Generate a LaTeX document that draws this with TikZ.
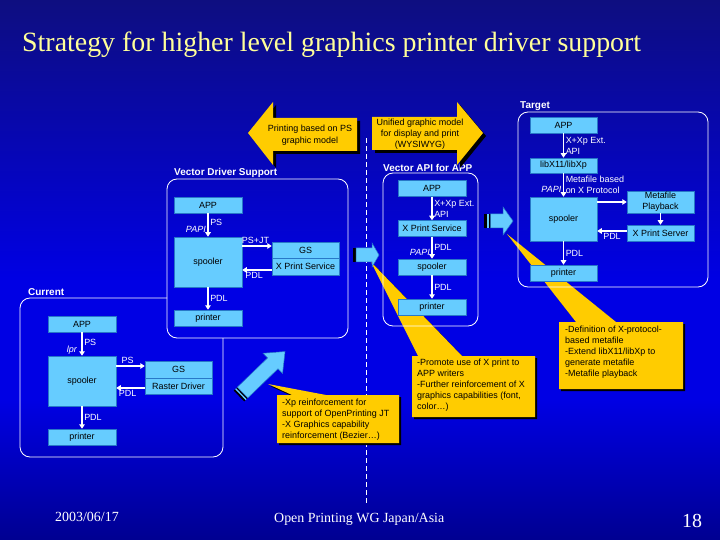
\documentclass[tikz,border=0pt]{standalone}
\usepackage{fontspec}
\setmainfont{Liberation Serif}
\setsansfont{Liberation Sans}
\usetikzlibrary{arrows.meta,positioning}

\definecolor{boxblue}{RGB}{102,204,255}
\definecolor{boxline}{RGB}{40,120,200}
\definecolor{gold}{RGB}{255,204,0}
\definecolor{titleyellow}{RGB}{255,255,153}
\definecolor{bgtop}{RGB}{14,14,128}
\definecolor{bgmid}{RGB}{0,0,228}
\definecolor{bgbot}{RGB}{0,0,145}

\pgfdeclareverticalshading{slidebg}{100bp}{color(0bp)=(bgbot); color(25bp)=(bgbot); color(38bp)=(bgmid); color(49bp)=(bgmid); color(75bp)=(bgtop); color(100bp)=(bgtop)}

\tikzset{
  box/.style={draw=boxline,line width=0.5bp,fill=boxblue,text=black,minimum width=68bp,minimum height=16bp,inner sep=0pt},
  group/.style={draw=white,line width=0.8bp,rounded corners=10bp},
  grouplabel/.style={text=white,font=\sffamily\bfseries\fontsize{10}{12}\selectfont,anchor=base west,inner sep=0pt},
  flow/.style={draw=white,line width=1.5bp,-{Triangle[width=5.5bp,length=4.5bp]}},
  lbl/.style={text=white,inner sep=1.5bp},
  papi/.style={text=white,font=\sffamily\itshape\fontsize{9}{11}\selectfont,inner sep=1.5bp},
  note/.style={text=black,align=left,anchor=north west,inner sep=0pt,font=\sffamily\fontsize{9}{11.2}\selectfont},
  blockarrow/.style={fill=boxblue,draw=boxline,line width=0.5bp},
  footer/.style={text=white,font=\rmfamily\fontsize{14}{16}\selectfont,anchor=base west,inner sep=0pt}
}

\begin{document}
\begin{tikzpicture}[x=1bp,y=-1bp,every node/.style={font=\sffamily\fontsize{9}{11}\selectfont}]
% slide background
\shade[shading=slidebg] (0,0) rectangle (720,540);
\useasboundingbox (0,0) rectangle (720,540);

\node[text=titleyellow,font=\rmfamily\fontsize{28}{30}\selectfont,anchor=base west,inner sep=0pt] (title) at (22,52) {Strategy for higher level graphics printer driver support};

% divider between now and later
\draw[white,line width=0.6bp,dash pattern=on 5bp off 3bp] (366,138) -- (366,506);

% callouts
\fill[black,shift={(2,2)}] (268,384) -- (292,395) -- (326,395) -- cycle (277,395) rectangle (399,443);
\fill[gold] (268,384) -- (292,395) -- (326,395) -- cycle (277,395) rectangle (399,443);
\node[note] (notexp) at (282,398.5) {-Xp reinforcement for\\support of OpenPrinting JT\\-X Graphics capability\\reinforcement (Bezier…)};

\fill[black,shift={(2,2)}] (371,262) -- (418,356) -- (462,356) -- cycle (412,356) rectangle (535,417);
\fill[gold] (371,262) -- (418,356) -- (462,356) -- cycle (412,356) rectangle (535,417);
\node[note] (notepromote) at (417,358.5) {-Promote use of X print to\\APP writers\\-Further reinforcement of X\\graphics capabilities (font,\\color…)};

\fill[black,shift={(2,2)}] (507,234) -- (576,322) -- (616,322) -- cycle (559,322) rectangle (683,389);
\fill[gold] (507,234) -- (576,322) -- (616,322) -- cycle (559,322) rectangle (683,389);
\node[note] (notemeta) at (565,325.5) {-Definition of X-protocol-\\based metafile\\-Extend libX11/libXp to\\generate metafile\\-Metafile playback};

% groups
\draw[group] (167,298) -- (20,298) -- (20,457) -- (223,457) -- (223,338);
\node[grouplabel] (curlabel) at (28,295) {Current};
\draw[group] (167,179) rectangle (348,338);
\node[grouplabel] (vdlabel) at (174,176) {Vector Driver Support};
\draw[group] (383,173) rectangle (478,326);
\node[grouplabel] (valabel) at (383,172) {Vector API for APP};
\draw[group] (518,112) rectangle (708,287);
\node[grouplabel] (tglabel) at (520,109) {Target};

% current
\node[box] (curapp) at (82,324) {APP};
\node[box,minimum height=50bp] (curspool) at (82,381) {spooler};
\node[box,minimum width=67bp,minimum height=17bp] (curgs) at (178.5,369.5) {GS};
\node[box,minimum width=67bp] (curraster) at (178.5,386) {Raster Driver};
\node[box] (curprinter) at (82,437) {printer};
\draw[flow] (curapp) -- node[lbl,right,pos=0.45] {PS} node[papi,left,pos=0.75,xshift=-3bp] {lpr} (curspool);
\draw[flow] ([yshift=3.5bp]curgs.west -| curspool.east) -- node[lbl,above,pos=0.4] {PS} ([yshift=3.5bp]curgs.west);
\draw[flow] ([yshift=-2bp]curraster.west) -- node[lbl,below,pos=0.6] {PDL} ([yshift=-2bp]curraster.west -| curspool.east);
\draw[flow] (curspool) -- node[lbl,right] {PDL} (curprinter);

% vector driver support
\node[box] (vdapp) at (208,205) {APP};
\node[box,minimum height=50bp] (vdspool) at (208,262) {spooler};
\node[box,minimum width=67bp] (vdgs) at (305.5,250) {GS};
\node[box,minimum width=67bp,minimum height=17bp] (vdxps) at (305.5,266.5) {X Print Service};
\node[box] (vdprinter) at (208,318) {printer};
\draw[flow] (vdapp) -- node[lbl,right,pos=0.4] {PS} node[papi,left,pos=0.7] {PAPI} (vdspool);
\draw[flow] ([yshift=4bp]vdgs.west -| vdspool.east) -- node[lbl,above,pos=0.45] {PS+JT} ([yshift=4bp]vdgs.west);
\draw[flow] ([yshift=-3.5bp]vdxps.west) -- node[lbl,below,pos=0.6] {PDL} ([yshift=-3.5bp]vdxps.west -| vdspool.east);
\draw[flow] (vdspool) -- node[lbl,right] {PDL} (vdprinter);

% vector api for app
\node[box] (vaapp) at (432,188.5) {APP};
\node[box] (vaxps) at (432,228.5) {X Print Service};
\node[box] (vaspool) at (432,267) {spooler};
\node[box] (vaprinter) at (432,307) {printer};
\draw[flow] (vaapp) -- node[lbl,right,align=left] {X+Xp Ext.\\API} (vaxps);
\draw[flow] (vaxps) -- node[lbl,right] {PDL} node[papi,left,pos=0.7] {PAPI} (vaspool);
\draw[flow] (vaspool) -- node[lbl,right] {PDL} (vaprinter);

% target
\node[box,minimum width=67bp] (tgapp) at (563.5,125) {APP};
\node[box,minimum width=67bp,minimum height=15bp] (tglib) at (563.5,165.5) {libX11/libXp};
\node[box,minimum width=67bp,minimum height=44bp] (tgspool) at (563.5,219) {spooler};
\node[box,minimum width=67bp] (tgprinter) at (563.5,273) {printer};
\node[box,minimum width=67bp,minimum height=22bp,align=center] (tgmeta) at (660.5,202) {Metafile\\Playback};
\node[box,minimum width=67bp] (tgxps) at (660.5,233) {X Print Server};
\draw[flow] (tgapp) -- node[lbl,right,align=left] {X+Xp Ext.\\API} (tglib);
\draw[flow] (tglib) -- node[lbl,right,align=left] {Metafile based\\on X Protocol} node[papi,left,pos=0.7] {PAPI} (tgspool);
\draw[flow] (tgspool.east |- tgmeta.west) -- (tgmeta.west);
\draw[flow] (tgmeta) -- (tgxps);
\draw[flow] ([yshift=2bp]tgxps.west) -- node[lbl,below] {PDL} ([yshift=2bp]tgxps.west -| tgspool.east);
\draw[flow] (tgspool) -- node[lbl,right] {PDL} (tgprinter);

% block arrows between stages
\fill[black] (353,248) rectangle (356,262);
\filldraw[blockarrow] (356,248) -- (372,248) -- (372,243) -- (379,255) -- (372,267) -- (372,262) -- (356,262) -- cycle;
\fill[black] (484,214) rectangle (487,228);
\fill[boxblue] (487,214) rectangle (489,228);
\fill[black] (489,214) rectangle (490.5,228);
\filldraw[blockarrow] (490.5,214) -- (503,214) -- (503,207) -- (513,221) -- (503,235) -- (503,228) -- (490.5,228) -- cycle;
\begin{scope}[shift={(239,396)},rotate=44]
  \fill[black] (0,-7.5) rectangle (2,7.5);
  \fill[boxblue] (2,-7.5) rectangle (3.5,7.5);
  \fill[black] (3.5,-7.5) rectangle (5,7.5);
  \filldraw[blockarrow] (5,-7.5) -- (47,-7.5) -- (47,-14) -- (64,0) -- (47,14) -- (47,7.5) -- (5,7.5) -- cycle;
\end{scope}

% yellow arrows
\fill[black,shift={(3,3)}] (248,133) -- (273,102) -- (273,118) -- (357,118) -- (357,151) -- (273,151) -- (273,165) -- cycle;
\fill[gold] (248,133) -- (273,102) -- (273,118) -- (357,118) -- (357,151) -- (273,151) -- (273,165) -- cycle;
\node[align=center,text=black,font=\sffamily\fontsize{9}{12}\selectfont] (psmodel) at (310,135) {Printing based on PS\\graphic model};
\fill[black,shift={(3,3)}] (372,117) -- (457,117) -- (457,102) -- (483,133) -- (457,165) -- (457,150) -- (372,150) -- cycle;
\fill[gold] (372,117) -- (457,117) -- (457,102) -- (483,133) -- (457,165) -- (457,150) -- (372,150) -- cycle;
\node[align=center,text=black] (wysiwyg) at (420,134) {Unified graphic model\\for display and print\\(WYSIWYG)};

% footer
\node[footer] (date) at (55,521) {2003/06/17};
\node[footer] (wg) at (274,522) {Open Printing WG Japan/Asia};
\node[footer,font=\rmfamily\fontsize{20}{22}\selectfont] (page) at (682,527) {18};
\end{tikzpicture}
\end{document}
